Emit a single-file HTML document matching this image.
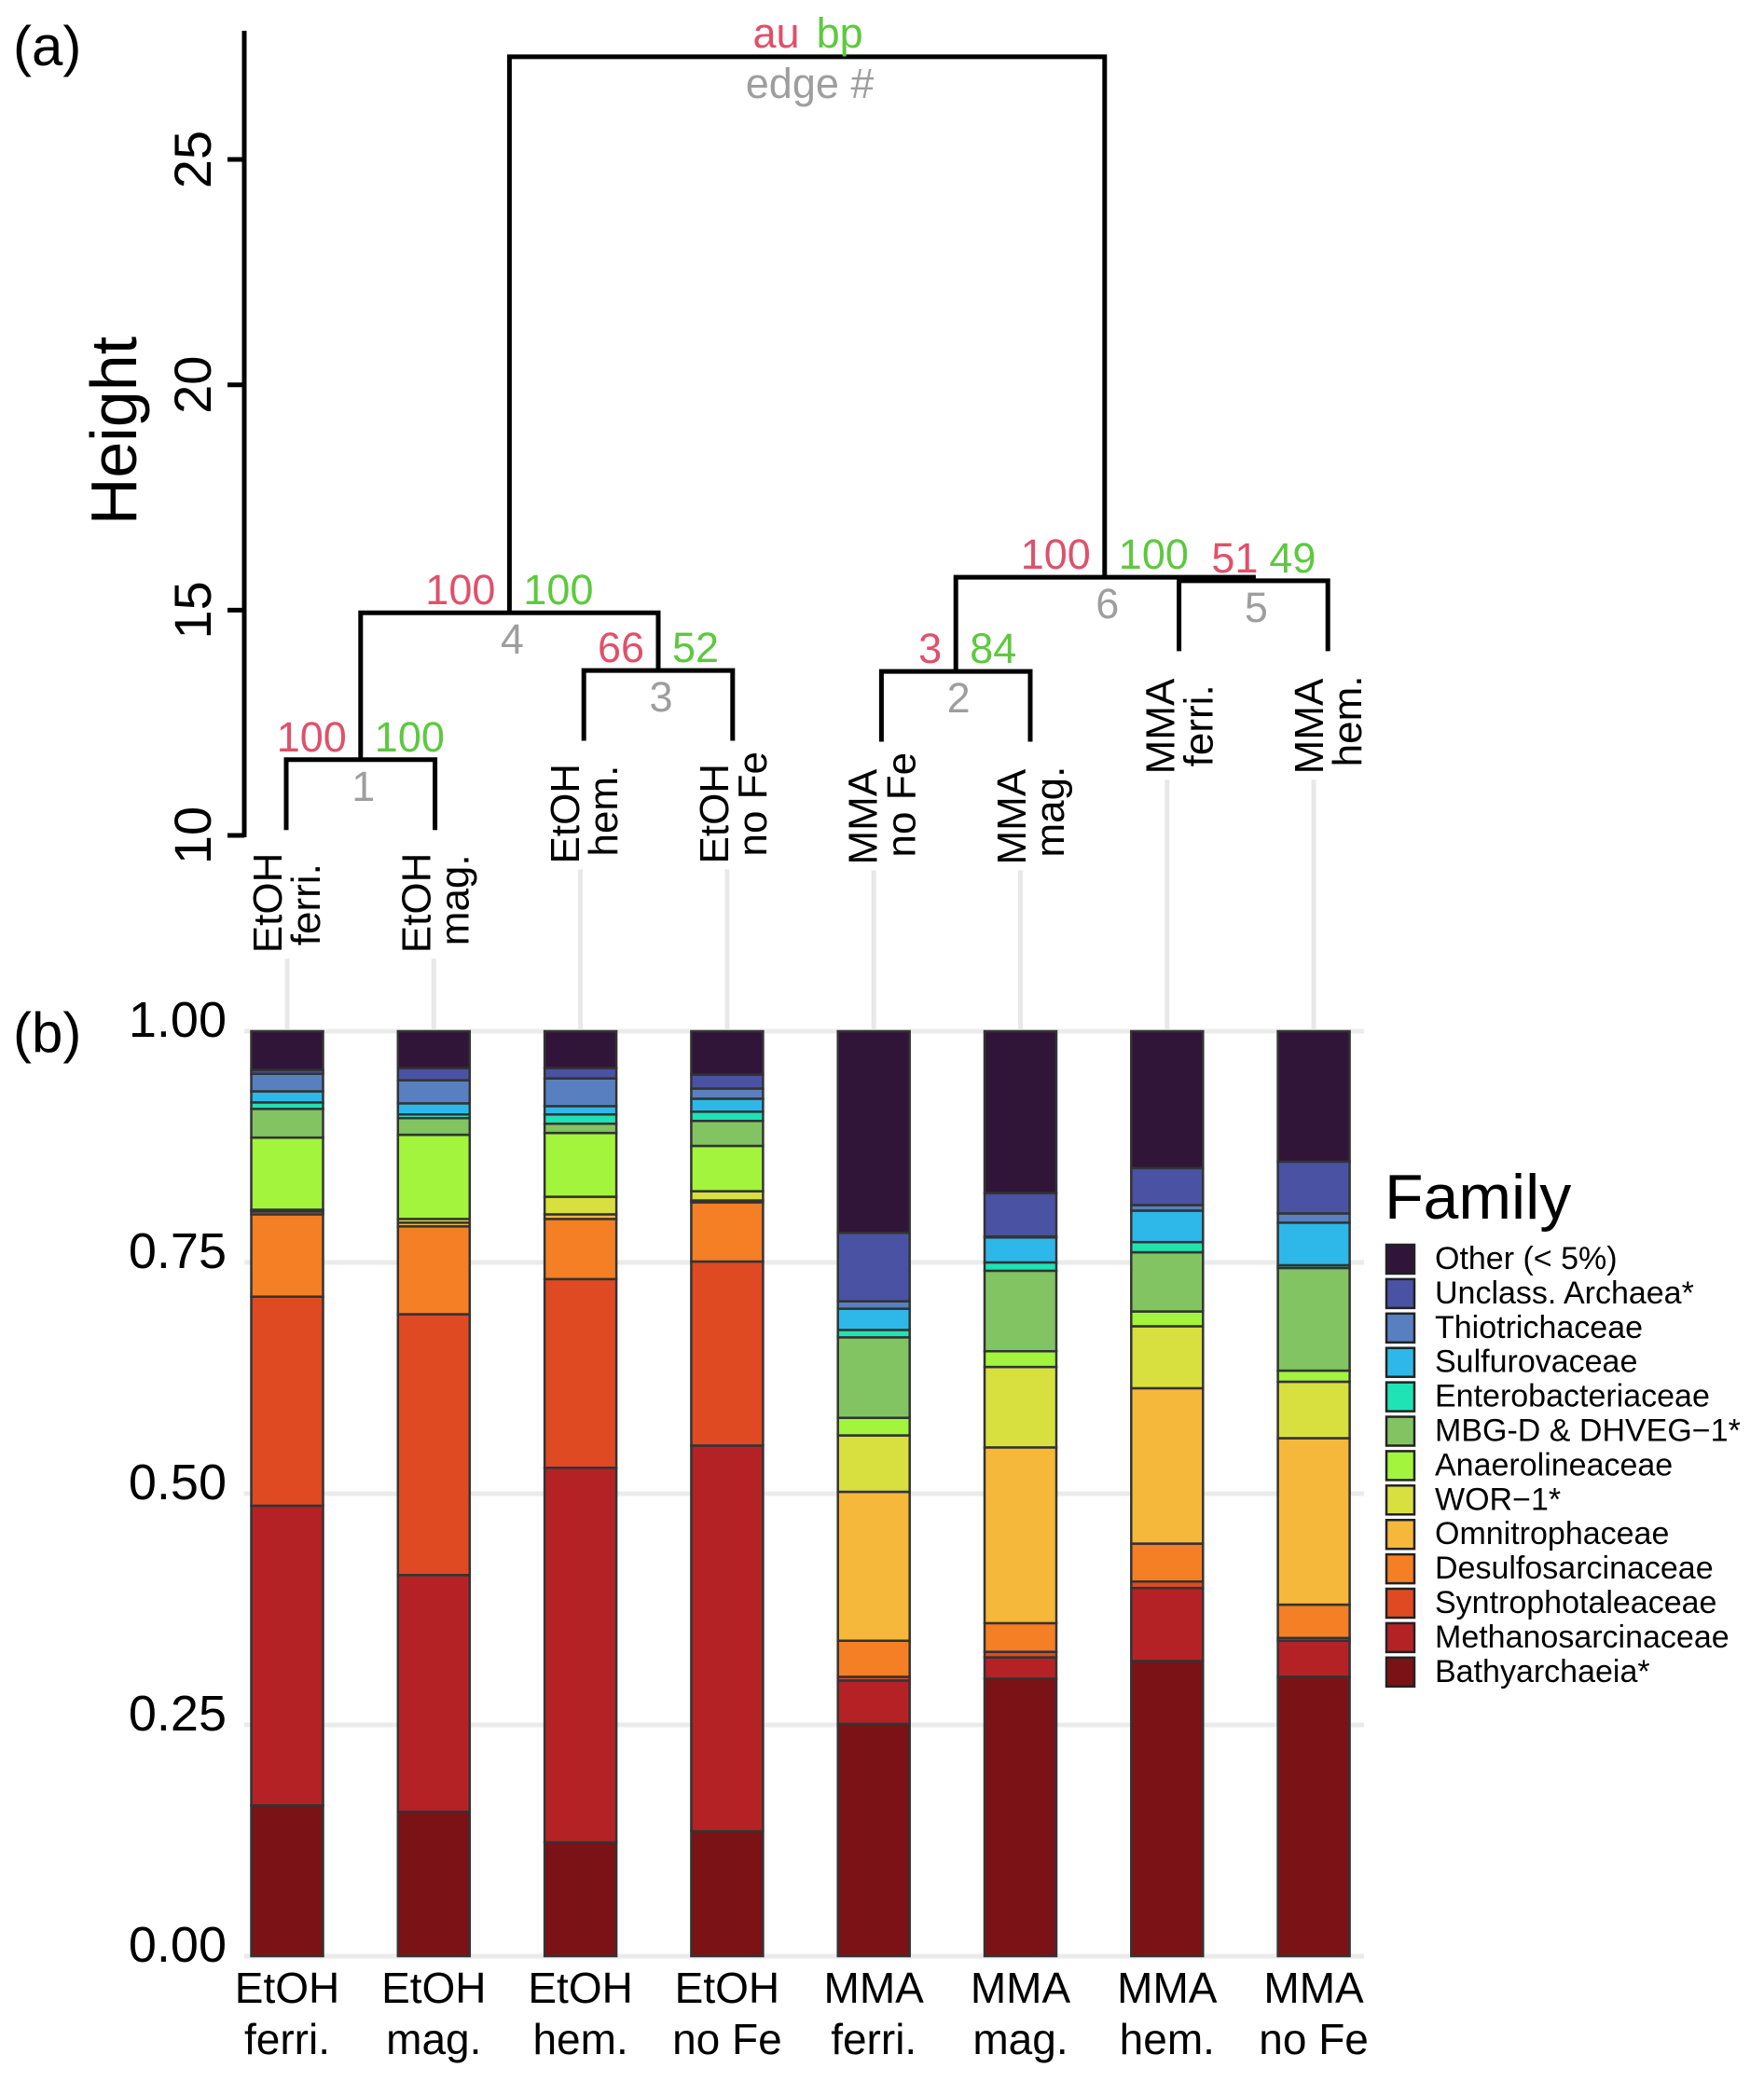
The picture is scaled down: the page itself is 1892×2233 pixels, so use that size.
<!DOCTYPE html>
<html><head><meta charset="utf-8">
<style>
html,body{margin:0;padding:0;background:#fff;}
svg{display:block;font-family:"Liberation Sans",Arial,sans-serif;}
</style></head>
<body>
<svg id="chart" width="1892" height="2233" viewBox="0 0 1892 2233" xmlns="http://www.w3.org/2000/svg">
  <rect x="0" y="0" width="1892" height="2233" fill="#fff"/>
  <text x="14" y="70" font-size="60">(a)</text>
  <text x="14" y="1128" font-size="60">(b)</text>
  <text transform="translate(146,462) rotate(-90)" text-anchor="middle" font-size="70">Height</text>
  <g id="dendro"></g>
  <g id="bars"></g>
  <g id="legend"></g>
</svg>
<script>
// ---------- Data ----------
const samples = ["EtOH ferri.","EtOH mag.","EtOH hem.","EtOH no Fe","MMA ferri.","MMA mag.","MMA hem.","MMA no Fe"];
const families = ["Bathyarchaeia*","Methanosarcinaceae","Syntrophotaleaceae","Desulfosarcinaceae","Omnitrophaceae","WOR\u22121*","Anaerolineaceae","MBG-D & DHVEG\u22121*","Enterobacteriaceae","Sulfurovaceae","Thiotrichaceae","Unclass. Archaea*","Other (< 5%)"];
const famColors = ["#7B1216","#B42226","#E04A23","#F47F25","#F6B83A","#D8E040","#A3F43C","#82C462","#1FE3B5","#2DB8E9","#5880C0","#4A52A4","#301538"];
const vEtOHferri = [0.163,0.324,0.226,0.089,0.003,0.002,0.078,0.031,0.007,0.012,0.019,0.004,0.042];
const vEtOHmag   = [0.156,0.256,0.282,0.095,0.004,0.004,0.091,0.018,0.004,0.012,0.025,0.013,0.040];
const vEtOHhem   = [0.123,0.405,0.204,0.065,0.005,0.019,0.069,0.010,0.010,0.009,0.030,0.011,0.040];
const vEtOHnoFe  = [0.135,0.417,0.199,0.064,0.002,0.010,0.049,0.027,0.010,0.014,0.011,0.015,0.047];
const vMMAferri  = [0.251,0.047,0.004,0.039,0.161,0.061,0.019,0.087,0.008,0.023,0.008,0.074,0.218];
const vMMAmag    = [0.300,0.023,0.006,0.031,0.190,0.087,0.017,0.087,0.009,0.027,0.001,0.047,0.175];
const vMMAhem    = [0.319,0.079,0.007,0.041,0.168,0.067,0.016,0.064,0.011,0.034,0.006,0.040,0.148];
const vMMAnoFe   = [0.302,0.039,0.003,0.036,0.180,0.061,0.012,0.111,0.003,0.046,0.010,0.056,0.141];
const barValues = [vEtOHferri,vEtOHmag,vEtOHhem,vEtOHnoFe,vMMAferri,vMMAmag,vMMAhem,vMMAnoFe];
const yTicks = [0,0.25,0.5,0.75,1.0];
const yTickLabels = ["0.00","0.25","0.50","0.75","1.00"];

// dendrogram
const leafOrder = ["EtOH ferri.","EtOH mag.","EtOH hem.","EtOH no Fe","MMA no Fe","MMA mag.","MMA ferri.","MMA hem."];
const nodeIds = [1,2,3,4,5,6,7];
const nodeLeft = ["L0","L4","L2","N1","L6","N2","N4"];
const nodeRight = ["L1","L5","L3","N3","L7","N5","N6"];
const nodeHeights = [11.68,13.64,13.66,14.94,15.65,15.73,27.28];
const nodeAU = ["100","3","66","100","51","100","au"];
const nodeBP = ["100","84","52","100","49","100","bp"];
const nodeEdge = ["1","2","3","4","5","6","edge #"];
const dTicks = [10,15,20,25];
const leafHang = 1.56;

// ---------- Scales ----------
const SVGNS = "http://www.w3.org/2000/svg";
function mk(tag, attrs, parent){const e=document.createElementNS(SVGNS,tag);for(const k in attrs)e.setAttribute(k,attrs[k]);parent.appendChild(e);return e;}
const barY = v => 2098 - v*992;
const barX = i => 308 + i*157.3;
const BW = 77;
const dY = h => 896 - (h-10)*48.33;
const dX = i => 307 + i*159.6;

// ---------- Dendrogram ----------
const dg = document.getElementById('dendro');
const axis = mk('line',{x1:262,y1:33,x2:262,y2:898,stroke:'#000','stroke-width':5},dg);


dTicks.forEach(t=>{
  const tl = mk('line',{x1:244,y1:dY(t),x2:262,y2:dY(t),stroke:'#000','stroke-width':5},dg);
  
  
  const tx = mk('text',{transform:`translate(226,${dY(t)}) rotate(-90)`,'text-anchor':'middle','font-size':56},dg);
  
  
  tx.textContent = t;
});
const leafEnd = {};
const nodeMap = {};
nodeIds.forEach((id,k)=>{nodeMap['N'+id]=k;});
function getPos(key){
  if(key[0]==='L'){return {x:dX(+key.slice(1)), leaf:true, idx:+key.slice(1)};}
  const k = nodeMap[key];
  const a=getPos(nodeLeft[k]), b=getPos(nodeRight[k]);
  return {x:(a.x+b.x)/2, h:nodeHeights[k], leaf:false};
}
nodeIds.forEach((id,k)=>{
  const a=getPos(nodeLeft[k]), b=getPos(nodeRight[k]);
  const h = nodeHeights[k], y=dY(h), xm=(a.x+b.x)/2;
  const ya = a.leaf ? dY(h-leafHang) : dY(a.h);
  const yb = b.leaf ? dY(h-leafHang) : dY(b.h);
  if(a.leaf) leafEnd[a.idx]=ya;
  if(b.leaf) leafEnd[b.idx]=yb;
  const p = mk('path',{d:`M${a.x},${ya} V${y} H${b.x} V${yb}`,fill:'none',stroke:'#000','stroke-width':5,'stroke-linejoin':'miter'},dg);
  
  
  const isRoot = k===nodeIds.length-1;
  let rOff = isRoot?-8:-15, gOff = isRoot?10:15;
  if(id===5){rOff=5; gOff=17;}
  const au = mk('text',{x:xm+rOff,y:isRoot?y-10:y-9,'text-anchor':'end','font-size':45,fill:'#E0506A'},dg);
  
  
  au.textContent = nodeAU[k];
  const bp = mk('text',{x:xm+gOff,y:isRoot?y-10:y-9,'text-anchor':'start','font-size':45,fill:'#5DC93E'},dg);
  
  
  bp.textContent = nodeBP[k];
  const ed = mk('text',{x:xm+3,y:y+44,'text-anchor':'middle','font-size':45,fill:'#9E9E9E'},dg);
  
  
  ed.textContent = nodeEdge[k];
});
leafOrder.forEach((name,i)=>{
  const parts = name.split(' ');
  const l1 = parts[0], l2 = parts.slice(1).join(' ');
  const x = dX(i), yb = leafEnd[i] + 132;
  const g = mk('g',{},dg);
  
  
  const t1 = mk('text',{transform:`translate(${x-5},${yb}) rotate(-90)`,'text-anchor':'start','font-size':44},g);
  t1.textContent = l1;
  const t2 = mk('text',{transform:`translate(${x+36},${yb-8}) rotate(-90)`,'text-anchor':'start','font-size':44},g);
  t2.textContent = l2;
});

// ---------- Bars ----------
const bg = document.getElementById('bars');
samples.forEach((s,i)=>{
  const top = leafEnd[i] + 138;
  const c = mk('line',{x1:barX(i),y1:top,x2:barX(i),y2:2098,stroke:'#E8E8E8','stroke-width':5},bg);
  
  
});
yTicks.forEach((t,k)=>{
  const gl = mk('line',{x1:262,y1:barY(t),x2:1463,y2:barY(t),stroke:'#EBEBEB','stroke-width':5},bg);
  
  
  const tl = mk('text',{x:243,y:barY(t)+6,'text-anchor':'end','font-size':54},bg);
  
  
  tl.textContent = yTickLabels[k];
});
barValues.forEach((vals,i)=>{
  let cum = 0;
  const g = mk('g',{},bg);
  
  
  vals.forEach((v,f)=>{
    const y0 = barY(cum), y1 = barY(cum+v);
    const r = mk('rect',{x:barX(i)-BW/2,y:y1,width:BW,height:Math.max(0,y0-y1),fill:famColors[f],stroke:'#333','stroke-width':2.5},g);
    
    
    cum += v;
  });
  const parts = samples[i].split(' ');
  const x1 = mk('text',{x:barX(i),y:2148,'text-anchor':'middle','font-size':46},bg);
  
  
  x1.textContent = parts[0];
  const x2 = mk('text',{x:barX(i),y:2203,'text-anchor':'middle','font-size':46},bg);
  
  
  x2.textContent = parts.slice(1).join(' ');
});

// ---------- Legend ----------
const lg = document.getElementById('legend');
const lt = mk('text',{x:1485,y:1307,'font-size':68},lg);


lt.textContent = 'Family';
for(let r=0;r<families.length;r++){
  const f = families.length-1-r;
  const y = 1335 + r*36.9;
  const g = mk('g',{},lg);
  
  
  mk('rect',{x:1487,y:y,width:30,height:31,fill:famColors[f],stroke:'#222','stroke-width':2.5},g);
  const t = mk('text',{x:1539,y:y+26,'font-size':34},g);
  t.textContent = families[f];
}
</script>
</body></html>
